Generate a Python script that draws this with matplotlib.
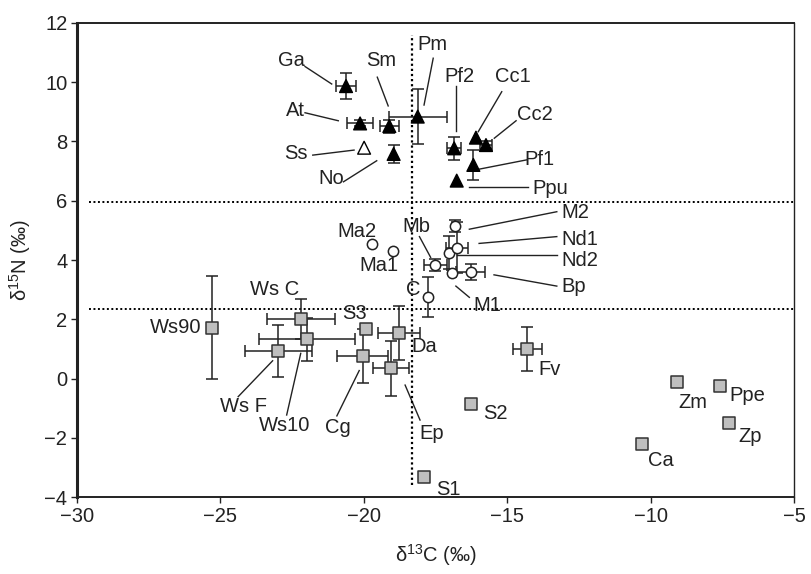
import numpy as np
import matplotlib
matplotlib.use('Agg')
import matplotlib.pyplot as plt

plt.rcParams['font.family'] = ['Liberation Sans', 'DejaVu Sans']
plt.rcParams['mathtext.fontset'] = 'custom'
plt.rcParams['mathtext.rm'] = 'Liberation Sans'

## filled / open triangles (top group)
tri_names = ['Ga', 'At', 'Sm', 'Pm', 'Ss', 'No', 'Pf2', 'Cc1', 'Cc2', 'Pf1', 'Ppu']
tri_x = [-20.62, -20.13, -19.11, -18.12, -19.99, -18.96, -16.85, -16.09, -15.74, -16.18, -16.76]
tri_y = [9.87, 8.61, 8.52, 8.84, 7.79, 7.58, 7.77, 8.13, 7.88, 7.21, 6.68]
tri_xerr = [0.35, 0.44, 0.32, 1.01, np.nan, np.nan, 0.25, np.nan, 0.20, np.nan, np.nan]
tri_yerr = [0.44, 0.10, 0.22, 0.93, np.nan, 0.30, 0.39, np.nan, 0.15, 0.50, np.nan]
tri_open = [False, False, False, False, True, False, False, False, False, False, False]

## circles (middle group)
cir_names = ['Ma2', 'Ma1', 'Mb', 'Nd2', 'Nd1', 'M2', 'M1', 'Bp', 'C']
cir_x = [-19.70, -18.99, -17.51, -17.04, -16.76, -16.82, -16.93, -16.27, -17.75]
cir_y = [4.53, 4.31, 3.83, 4.25, 4.42, 5.15, 3.55, 3.60, 2.76]
cir_xerr = [np.nan, np.nan, 0.40, np.nan, 0.38, np.nan, np.nan, 0.50, np.nan]
cir_yerr = [np.nan, np.nan, 0.20, 0.55, 0.85, 0.20, np.nan, 0.28, 0.67]

## squares (bottom group)
sq_names = ['Ws90', 'Ws C', 'Ws10', 'Ws F', 'S3', 'Cg', 'Da', 'Ep', 'S1', 'Fv', 'S2', 'Zm', 'Ppe', 'Zp', 'Ca']
sq_x = [-25.30, -22.20, -21.97, -22.98, -19.92, -20.04, -18.77, -19.05, -17.89, -14.30, -16.27, -9.09, -7.58, -7.26, -10.29]
sq_y = [1.72, 2.00, 1.32, 0.93, 1.66, 0.76, 1.53, 0.35, -3.31, 1.00, -0.87, -0.13, -0.24, -1.51, -2.21]
sq_xerr = [0.18, 1.19, 1.67, 1.16, np.nan, 0.90, 0.73, 0.64, np.nan, 0.50, np.nan, np.nan, np.nan, np.nan, np.nan]
sq_yerr = [1.73, 0.67, 0.72, 0.88, np.nan, 0.90, 0.92, 0.93, np.nan, 0.73, np.nan, np.nan, np.nan, np.nan, np.nan]

## label positions (data coords) and leader lines (x0, y0, x1, y1)
labels = {
    'Ga': (-22.51, 10.72, 'center'), 'Sm': (-19.38, 10.73, 'center'), 'Pm': (-17.60, 11.26, 'center'),
    'Pf2': (-16.65, 10.21, 'center'), 'Cc1': (-14.79, 10.21, 'center'), 'Cc2': (-14.03, 8.90, 'center'),
    'Pf1': (-13.86, 7.40, 'center'), 'Ppu': (-13.51, 6.42, 'center'), 'At': (-22.40, 9.06, 'center'),
    'Ss': (-22.36, 7.58, 'center'), 'No': (-21.12, 6.74, 'center'),
    'Ma2': (-20.25, 4.96, 'center'), 'Ma1': (-19.49, 3.80, 'center'), 'Mb': (-18.16, 5.13, 'center'),
    'M1': (-15.71, 2.45, 'center'), 'C': (-18.27, 2.99, 'center'), 'M2': (-13.10, 5.59, 'left'),
    'Nd1': (-13.10, 4.68, 'left'), 'Nd2': (-13.10, 4.00, 'left'), 'Bp': (-13.10, 3.10, 'left'),
    'Ws90': (-26.55, 1.71, 'center'), 'Ws C': (-23.10, 2.99, 'center'), 'S3': (-20.31, 2.20, 'center'),
    'Da': (-17.89, 1.08, 'center'), 'Ws F': (-24.20, -0.95, 'center'), 'Ws10': (-22.75, -1.57, 'center'),
    'Cg': (-20.89, -1.64, 'center'), 'Ep': (-17.63, -1.85, 'center'), 'S1': (-17.05, -3.76, 'center'),
    'Fv': (-13.53, 0.29, 'center'), 'S2': (-15.40, -1.17, 'center'), 'Zm': (-8.53, -0.80, 'center'),
    'Ppe': (-6.63, -0.58, 'center'), 'Zp': (-6.53, -1.94, 'center'), 'Ca': (-9.65, -2.75, 'center'),
}
leaders = [
    (-22.05, 10.53, -21.12, 9.94), (-19.53, 10.17, -19.15, 9.20), (-17.58, 10.81, -17.90, 9.23),
    (-16.79, 9.87, -16.79, 8.37), (-15.19, 9.68, -16.01, 8.33), (-14.69, 8.70, -15.45, 8.11),
    (-14.32, 7.38, -16.01, 7.06), (-16.32, 6.45, -14.26, 6.45), (-22.05, 8.97, -20.89, 8.70),
    (-21.78, 7.54, -20.34, 7.71), (-20.71, 6.64, -19.55, 7.35),
    (-18.06, 4.79, -17.67, 4.09), (-16.79, 3.12, -16.32, 2.74), (-16.32, 5.04, -13.27, 5.63),
    (-15.98, 4.56, -13.27, 4.79), (-16.74, 4.16, -13.27, 4.16), (-15.46, 3.50, -13.27, 3.12),
    (-24.38, -0.61, -23.18, 0.60), (-22.69, -1.23, -22.20, 0.85), (-20.94, -1.26, -20.16, 0.27),
    (-18.04, -1.40, -18.56, -0.22),
]

fig = plt.figure(figsize=(8.11, 5.74), dpi=100)
ax = fig.add_axes([0.095, 0.134, 0.884, 0.826])

# dotted reference lines
ax.plot([-18.33, -18.33], [-3.6, 11.6], color='black', lw=1.6, ls=(0, (1, 1.3)))
ax.plot([-29.6, -5], [5.95, 5.95], color='black', lw=1.4, ls=(0, (1, 1.3)))
ax.plot([-29.6, -5], [2.35, 2.35], color='black', lw=1.4, ls=(0, (1, 1.3)))

ebkw = dict(fmt='none', ecolor='#222222', elinewidth=1.1, capsize=4, capthick=1.1, zorder=2)
ax.errorbar(tri_x, tri_y, xerr=tri_xerr, yerr=tri_yerr, **ebkw)
ax.errorbar(cir_x, cir_y, xerr=cir_xerr, yerr=cir_yerr, **ebkw)
ax.errorbar(sq_x, sq_y, xerr=sq_xerr, yerr=sq_yerr, **ebkw)

tri_fc = ['white' if o else 'black' for o in tri_open]
ax.scatter(tri_x, tri_y, marker='^', s=85, facecolors=tri_fc, edgecolors='black', linewidths=1.0, zorder=3)
ax.scatter(cir_x, cir_y, marker='o', s=55, facecolors='white', edgecolors='#222222', linewidths=1.1, zorder=3)
ax.scatter(sq_x, sq_y, marker='s', s=64, facecolors='#bfbfbf', edgecolors='#333333', linewidths=1.1, zorder=3)

for x0, y0, x1, y1 in leaders:
    ax.plot([x0, x1], [y0, y1], color='#222222', lw=1.0, zorder=1)

for name, (lx, ly, ha) in labels.items():
    ax.text(lx, ly, name, ha=ha, va='center', fontsize=14.5, color='#222222', zorder=4)

ax.set_xlim(-30, -5)
ax.set_ylim(-4, 12)
ax.set_xticks([-30, -25, -20, -15, -10, -5])
ax.set_yticks(range(-4, 13, 2))
ax.set_xticklabels(['\u221230', '\u221225', '\u221220', '\u221215', '\u221210', '\u22125'])
ax.set_yticklabels(['\u22124', '\u22122', '0', '2', '4', '6', '8', '10', '12'])
ax.tick_params(direction='out', length=4, width=1, labelsize=14.5, colors='#222222', pad=3)
ax.spines['left'].set_linewidth(2.2)
for s in ['top', 'bottom']:
    ax.spines[s].set_linewidth(1.4)
ax.spines['right'].set_linewidth(1.0)
for s in ax.spines.values():
    s.set_color('#222222')

ax.set_xlabel('\u03b4$^{13}$C (\u2030)', fontsize=14.5, color='#222222', labelpad=12)
ax.set_ylabel('\u03b4$^{15}$N (\u2030)', fontsize=14.5, color='#222222', labelpad=8)

fig.savefig('out.png', dpi=100)
